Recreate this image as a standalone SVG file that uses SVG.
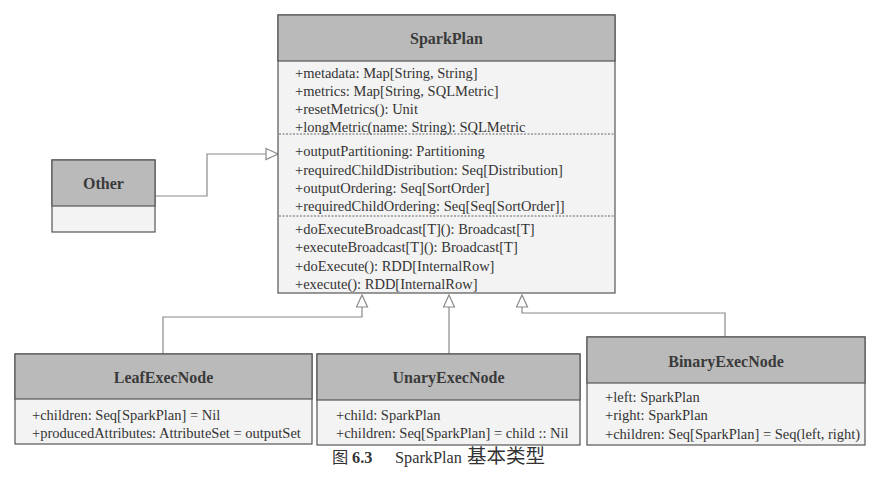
<svg xmlns="http://www.w3.org/2000/svg" width="881" height="485" viewBox="0 0 881 485">
<style>
.hd{fill:#bababa;stroke:#555;stroke-width:1.2}
.bd{fill:#f3f3f3;stroke:#555;stroke-width:1.2}
.sep{stroke:#666;stroke-width:1;stroke-dasharray:2,1.5}
.t{font-family:"Liberation Serif","Times New Roman",serif;font-size:14.5px;fill:#333}
.h{font-family:"Liberation Serif","Times New Roman",serif;font-size:16px;font-weight:bold;fill:#3a3a3a;text-anchor:middle}
.c{fill:none;stroke:#8a8a8a;stroke-width:1.2}
.tri{fill:#fff;stroke:#8a8a8a;stroke-width:1.2}
.cap{font-family:"Liberation Serif","Noto Sans CJK SC",serif;font-size:16.3px;fill:#333}
</style>
<rect width="881" height="485" fill="#fff"/>
<g id="connectors">
<polyline class="c" points="155,196 207,196 207,154 266,154"/>
<polygon class="tri" points="266,148.5 278,154 266,159.5"/>
<polyline class="c" points="163,354 163,317 362,317 362,307"/>
<polygon class="tri" points="356.5,307 362,295 367.5,307"/>
<polyline class="c" points="449,354 449,307"/>
<polygon class="tri" points="443.5,307 449,295 454.5,307"/>
<polyline class="c" points="725,337 725,313 522,313 522,307"/>
<polygon class="tri" points="516.5,307 522,295 527.5,307"/>
</g>
<g id="sparkplan">
<rect class="bd" x="278" y="15" width="337" height="278"/>
<rect class="hd" x="278" y="15" width="337" height="46"/>
<text class="h" x="446.5" y="44">SparkPlan</text>
<line class="sep" x1="279" y1="134" x2="614" y2="134"/>
<line class="sep" x1="279" y1="216" x2="614" y2="216"/>
<text class="t" x="295" y="78">+metadata: Map[String, String]</text>
<text class="t" x="295" y="96">+metrics: Map[String, SQLMetric]</text>
<text class="t" x="295" y="114">+resetMetrics(): Unit</text>
<text class="t" x="295" y="132">+longMetric(name: String): SQLMetric</text>
<text class="t" x="295" y="156">+outputPartitioning: Partitioning</text>
<text class="t" x="295" y="175">+requiredChildDistribution: Seq[Distribution]</text>
<text class="t" x="295" y="193">+outputOrdering: Seq[SortOrder]</text>
<text class="t" x="295" y="211">+requiredChildOrdering: Seq[Seq[SortOrder]]</text>
<text class="t" x="295" y="234">+doExecuteBroadcast[T](): Broadcast[T]</text>
<text class="t" x="295" y="252">+executeBroadcast[T](): Broadcast[T]</text>
<text class="t" x="295" y="271">+doExecute(): RDD[InternalRow]</text>
<text class="t" x="295" y="289">+execute(): RDD[InternalRow]</text>
</g>
<g id="other">
<rect class="bd" x="52" y="160" width="103" height="72"/>
<rect class="hd" x="52" y="160" width="103" height="46"/>
<text class="h" x="103.5" y="189">Other</text>
</g>
<g id="leafexecnode">
<rect class="bd" x="15" y="354" width="297" height="90"/>
<rect class="hd" x="15" y="354" width="297" height="45"/>
<text class="h" x="163.5" y="383">LeafExecNode</text>
<text class="t" x="32" y="420">+children: Seq[SparkPlan] = Nil</text>
<text class="t" x="32" y="438">+producedAttributes: AttributeSet = outputSet</text>
</g>
<g id="unaryexecnode">
<rect class="bd" x="317" y="354" width="263" height="91"/>
<rect class="hd" x="317" y="354" width="263" height="46"/>
<text class="h" x="448.5" y="383">UnaryExecNode</text>
<text class="t" x="336" y="420">+child: SparkPlan</text>
<text class="t" x="336" y="438">+children: Seq[SparkPlan] = child :: Nil</text>
</g>
<g id="binaryexecnode">
<rect class="bd" x="587" y="337" width="278" height="108"/>
<rect class="hd" x="587" y="337" width="278" height="46"/>
<text class="h" x="726" y="367">BinaryExecNode</text>
<text class="t" x="605" y="402">+left: SparkPlan</text>
<text class="t" x="605" y="420">+right: SparkPlan</text>
<text class="t" x="605" y="439">+children: Seq[SparkPlan] = Seq(left, right)</text>
</g>
<text class="cap" y="463"><tspan x="332">图</tspan><tspan x="352" font-weight="bold">6.3</tspan><tspan x="395">SparkPlan</tspan><tspan x="467" font-size="19.5px">基本类型</tspan></text>
</svg>
